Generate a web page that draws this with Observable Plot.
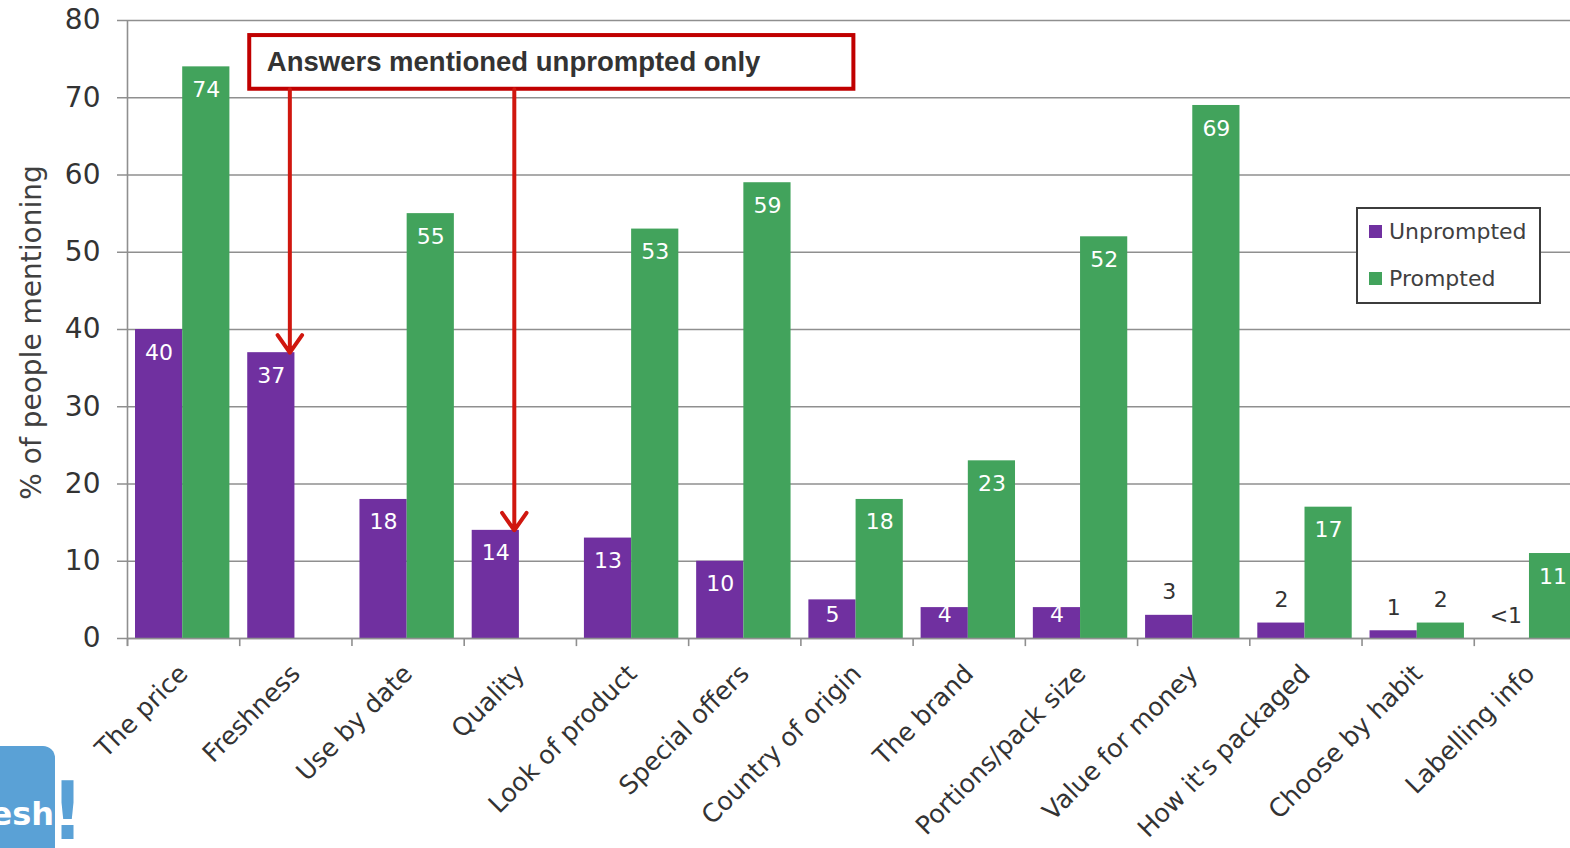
<!DOCTYPE html>
<html>
<head>
<meta charset="utf-8">
<script src="https://cdn.jsdelivr.net/npm/d3@7"></script>
<script src="https://cdn.jsdelivr.net/npm/@observablehq/plot@0.6"></script>
<style>
  html, body { margin: 0; padding: 0; overflow: hidden; background: #fff; }
  #page { position: relative; width: 1570px; height: 848px; overflow: hidden; background: #fff; }
  #chart { position: absolute; left: 0; top: 0; width: 1600px; }
  #chart svg { max-width: none !important; }
  #chart g[aria-label^="x-axis"] text { font-size: 25.3px; fill: #333; }
  #chart g[aria-label^="y-axis"] text { font-size: 28px; fill: #333; }
  #legend { position: absolute; left: 1356px; top: 207px; width: 181px; height: 93px; border: 2px solid #3c3c3c; background: #fff; font-family: "DejaVu Sans", sans-serif; font-size: 22px; color: #404040; }
  #legend .item { position: absolute; left: 11px; display: flex; align-items: center; white-space: nowrap; }
  #legend .sw { width: 13px; height: 13px; margin-right: 7px; }
  #logo { position: absolute; left: 0; top: 746px; width: 55px; height: 102px; background: #5aa1d6; border-top-right-radius: 12px; overflow: hidden; }
  #logo span { position: absolute; right: 1px; top: 52px; font-family: "DejaVu Sans", sans-serif; font-weight: bold; font-size: 32px; line-height: 32px; color: #fff; white-space: nowrap; }
  #bang { position: absolute; left: 52px; top: 777px; font-family: "DejaVu Sans", sans-serif; font-weight: bold; font-size: 80px; line-height: 70px; color: #5aa1d6; transform: scaleX(0.85); transform-origin: left top; }
</style>
</head>
<body>
<div id="page">
  <div id="chart"></div>
  <div id="legend"></div>
  <div id="logo"><span>Fresh</span></div>
  <div id="bang">!</div>
</div>
<script>
// ---- data ----
const categories = ["The price", "Freshness", "Use by date", "Quality", "Look of product", "Special offers",
  "Country of origin", "The brand", "Portions/pack size", "Value for money", "How it's packaged",
  "Choose by habit", "Labelling info"];
const unprompted = [40, 37, 18, 14, 13, 10, 5, 4, 4, 3, 2, 1, 0];
const unpromptedLabels = ["40", "37", "18", "14", "13", "10", "5", "4", "4", "3", "2", "1", "<1"];
const prompted = [74, null, 55, null, 53, 59, 18, 23, 52, 69, 17, 2, 11];
const promptedLabels = ["74", "", "55", "", "53", "59", "18", "23", "52", "69", "17", "2", "11"];
const seriesNames = ["Unprompted", "Prompted"];
const seriesColors = ["#7030a0", "#42a35c"];
const yTitle = "% of people mentioning";
const annotationText = "Answers mentioned unprompted only";
const annotatedCategories = ["Freshness", "Quality"];

// ---- tables ----
const unpRows = categories.map((c, i) => ({category: c, value: unprompted[i], label: unpromptedLabels[i]}));
const proRows = categories.map((c, i) => ({category: c, value: prompted[i], label: promptedLabels[i]}))
  .filter(d => d.value != null);
const arrowRows = unpRows.filter(d => annotatedCategories.includes(d.category));

// ---- layout ----
const W = 1586, H = 848, ML = 127, MT = 20, MB = 210;
const step = (W - ML) / categories.length;
const half = step / 2;
const barW = 47.2, gapL = 8;
const purpleDx = gapL + barW / 2 - half;
const greenDx = gapL + barW + barW / 2 - half;

const boxMark = (index, scales) => {
  const x = scales.x, y = scales.y;
  const x1 = x("Freshness") + 10, x2 = x("Country of origin") + 53;
  const y1 = y(78.05), y2 = y(71.1);
  const g = d3.create("svg:g");
  g.append("rect").attr("x", x1).attr("y", y1).attr("width", x2 - x1).attr("height", y2 - y1)
    .attr("fill", "#fff").attr("stroke", "#c00000").attr("stroke-width", 4);
  return g.node();
};

const chart = Plot.plot({
  width: W, height: H,
  marginLeft: ML, marginRight: 0, marginTop: MT, marginBottom: MB,
  style: {fontFamily: "DejaVu Sans, sans-serif", fontSize: "22px", color: "#333", background: "#fff", maxWidth: "none", overflow: "visible"},
  x: {type: "band", domain: categories, padding: 0, round: false, tickRotate: -45, tickSize: 0, tickPadding: 31, label: null},
  y: {domain: [0, 80], ticks: 8, tickSize: 0, tickPadding: 27, label: null},
  marks: [
    Plot.ruleY(d3.range(0, 81, 10), {stroke: "#8f8f8f", strokeWidth: 1.6, insetLeft: -10}),
    Plot.barY(unpRows.filter(d => d.value > 0), {x: "category", y: "value", fill: seriesColors[0], insetLeft: gapL, insetRight: step - gapL - barW}),
    Plot.barY(proRows, {x: "category", y: "value", fill: seriesColors[1], insetLeft: gapL + barW, insetRight: step - gapL - 2 * barW}),
    Plot.ruleX(categories, {x: d => d, dx: -half, y1: 0, y2: -1.05, stroke: "#8f8f8f", strokeWidth: 1.6}),
    Plot.ruleX([categories[0]], {x: d => d, dx: -half, y1: -1.05, y2: 80, stroke: "#8f8f8f", strokeWidth: 1.6}),
    Plot.ruleY([0], {stroke: "#8f8f8f", strokeWidth: 1.6}),
    boxMark,
    Plot.text([annotationText], {x: () => "Freshness", y: () => 74.57, dx: -29, text: d => d, textAnchor: "start",
      fontFamily: "Liberation Sans, Arial, sans-serif", fontWeight: "bold", fontSize: 27.5, fill: "#333"}),
    Plot.arrow(arrowRows, {x: "category", y1: () => 71.1, y2: "value", dx: -6, stroke: "#d0170f", strokeWidth: 4,
      headLength: 8, headAngle: 70, strokeLinejoin: "miter"}),
    // value labels
    Plot.text(unpRows.filter(d => d.value >= 6), {x: "category", y: "value", text: "label", dx: purpleDx, dy: 23, fill: "#fff", fontSize: 22}),
    Plot.text(unpRows.filter(d => d.value >= 3.5 && d.value < 6), {x: "category", y: () => 0, text: "label", dx: purpleDx, dy: -24, fill: "#fff", fontSize: 22}),
    Plot.text(unpRows.filter(d => d.value < 3.5), {x: "category", y: "value", text: "label", dx: purpleDx, dy: -23, fill: "#333", fontSize: 22}),
    Plot.text(proRows.filter(d => d.value >= 6), {x: "category", y: "value", text: "label", dx: greenDx, dy: 23, fill: "#fff", fontSize: 22}),
    Plot.text(proRows.filter(d => d.value < 6), {x: "category", y: "value", text: "label", dx: greenDx, dy: -23, fill: "#333", fontSize: 22}),
    // y title
    Plot.text([yTitle], {frameAnchor: "left", textAnchor: "middle", dx: -95, dy: 3, rotate: -90, text: d => d, fontSize: 28, fill: "#404040"})
  ]
});
document.getElementById("chart").appendChild(chart);

// legend (HTML overlay)
const legend = document.getElementById("legend");
seriesNames.forEach((name, i) => {
  const item = document.createElement("div");
  item.className = "item";
  item.style.top = (i === 0 ? 10 : 57) + "px";
  const sw = document.createElement("div");
  sw.className = "sw";
  sw.style.background = seriesColors[i];
  const t = document.createElement("span");
  t.textContent = name;
  item.appendChild(sw);
  item.appendChild(t);
  legend.appendChild(item);
});
</script>
</body>
</html>
